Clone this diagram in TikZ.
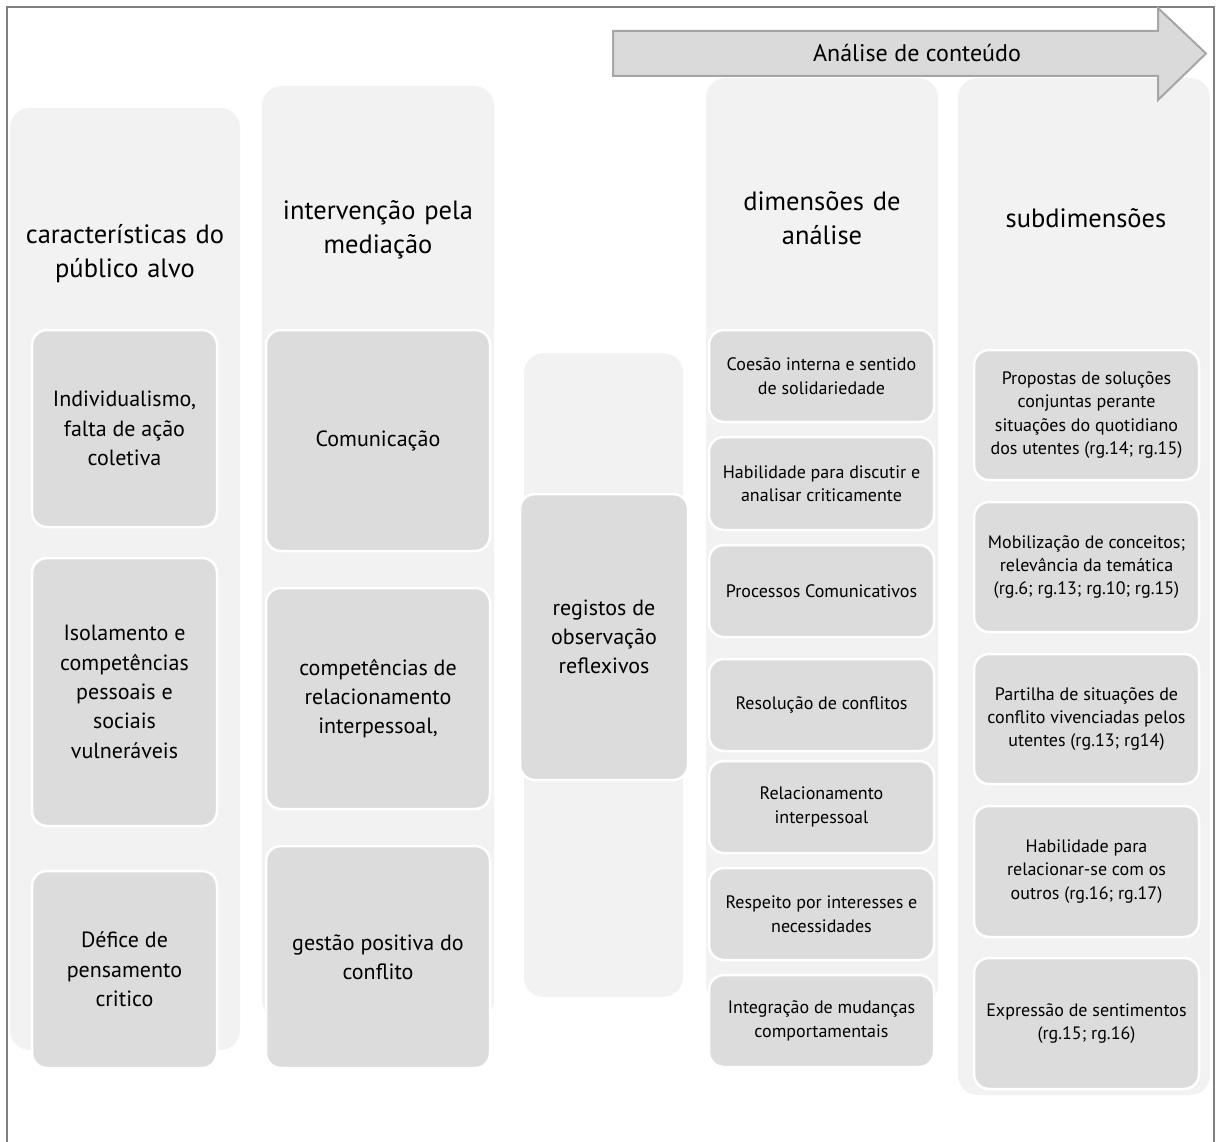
\documentclass[tikz,border=0pt]{standalone}
\usepackage{fontspec}
\setmainfont{PT Sans}
\definecolor{colbg}{HTML}{F2F2F2}
\definecolor{boxbg}{HTML}{DCDCDC}
\definecolor{framec}{HTML}{808080}
\definecolor{arrowfill}{HTML}{DADADA}
\definecolor{arrowline}{HTML}{A6A6A6}
\newcommand\placebox[7]{%
  \node[#7, minimum width={(#4-#2)*1pt}, minimum height={(#5-#3)*1pt}]
    (#1) at ({(#2+#4)/2},{(#3+#5)/2}) {#6};}
\begin{document}
\begin{tikzpicture}[x=1pt,y=-1pt,
  colstyle/.style={rectangle, rounded corners=20pt, fill=colbg, draw=none, inner sep=0pt},
  titletext/.style={font=\fontsize{26.5}{34}\selectfont, text width=240pt, align=center},
  innerbox/.style={rectangle, rounded corners=15pt, fill=boxbg, draw=white, line width=2.5pt, inner sep=0pt, align=center},
  bigtext/.style={innerbox, font=\fontsize{22}{29.3}\selectfont},
  smalltext/.style={innerbox, font=\fontsize{18}{23.5}\selectfont},
  midtext/.style={innerbox, font=\fontsize{18}{23.2}\selectfont},
]
\useasboundingbox (0,0) rectangle (1216,1142);
\fill[white] (0,0) rectangle (1216,1142);
% outer frame
\draw[framec, line width=2pt] (7,1150) -- (7,7) -- (1214,7) -- (1214,1150);
% column backgrounds
\placebox{col1}{10}{108}{240}{1050}{}{colstyle}
\placebox{col2}{262}{86}{494}{1020}{}{colstyle}
\placebox{col3}{524}{353}{683}{997}{}{colstyle}
\placebox{col4}{706}{78}{938}{1005}{}{colstyle}
\placebox{col5}{958}{78}{1210}{1095}{}{colstyle}
% arrow
\coordinate (a1) at (613,31);
\coordinate (a2) at (1158,31);
\coordinate (a3) at (1158,8);
\coordinate (a4) at (1206,53.5);
\coordinate (a5) at (1158,100);
\coordinate (a6) at (1158,76);
\coordinate (a7) at (613,76);
\draw[fill=arrowfill, draw=arrowline, line width=2pt, line join=miter] (a1) -- (a2) -- (a3) -- (a4) -- (a5) -- (a6) -- (a7) -- cycle;
\node[font=\fontsize{24}{28}\selectfont] (arrowlabel) at (917,53) {Análise de conteúdo};
% titles
\node[titletext] (t1) at (125,254) {características do\\público alvo};
\node[titletext] (t2) at (378,230) {intervenção pela\\mediação};
\node[titletext] (t4) at (822,218) {dimensões de\\análise};
\node[titletext] (t5) at (1086,218) {subdimensões};
% column 1
\placebox{c1a}{32}{330}{217}{527}{Individualismo,\\falta de ação\\coletiva}{bigtext}
\placebox{c1b}{32}{558}{217}{826}{Isolamento e\\competências\\pessoais e\\sociais\\vulneráveis}{bigtext}
\placebox{c1c}{32}{871}{217}{1068}{Défice de\\pensamento\\critico}{bigtext}
% column 2
\placebox{c2a}{266}{330}{490}{551}{Comunicação}{bigtext}
\placebox{c2b}{266}{588}{490}{809}{competências de\\relacionamento\\interpessoal,}{bigtext}
\placebox{c2c}{266}{846}{490}{1068}{gestão positiva do\\conflito}{bigtext}
% column 3
\placebox{c3a}{520}{494}{688}{780}{registos de\\observação\\reflexivos}{bigtext}
% column 4
\placebox{c4a}{709}{330}{934}{422}{Coesão interna e sentido\\de solidariedade}{smalltext}
\placebox{c4b}{709}{437}{934}{530}{Habilidade para discutir e\\analisar criticamente}{smalltext}
\placebox{c4c}{709}{545}{934}{637}{Processos Comunicativos}{smalltext}
\placebox{c4d}{709}{659}{934}{751}{Resolução de conflitos}{smalltext}
\placebox{c4e}{709}{761}{934}{853}{Relacionamento\\interpessoal}{smalltext}
\placebox{c4f}{709}{868}{934}{960}{Respeito por interesses e\\necessidades}{smalltext}
\placebox{c4g}{709}{975}{934}{1067}{Integração de mudanças\\comportamentais}{smalltext}
% column 5
\placebox{c5a}{974}{350}{1199}{480}{Propostas de soluções\\conjuntas perante\\situações do quotidiano\\dos utentes (rg.14; rg.15)}{midtext}
\placebox{c5b}{974}{502}{1199}{632}{Mobilização de conceitos;\\relevância da temática\\(rg.6; rg.13; rg.10; rg.15)}{midtext}
\placebox{c5c}{974}{654}{1199}{784}{Partilha de situações de\\conflito vivenciadas pelos\\utentes (rg.13; rg14)}{midtext}
\placebox{c5d}{974}{806}{1199}{937}{Habilidade para\\relacionar-se com os\\outros (rg.16; rg.17)}{midtext}
\placebox{c5e}{974}{958}{1199}{1089}{Expressão de sentimentos\\(rg.15; rg.16)}{midtext}
\end{tikzpicture}
\end{document}
